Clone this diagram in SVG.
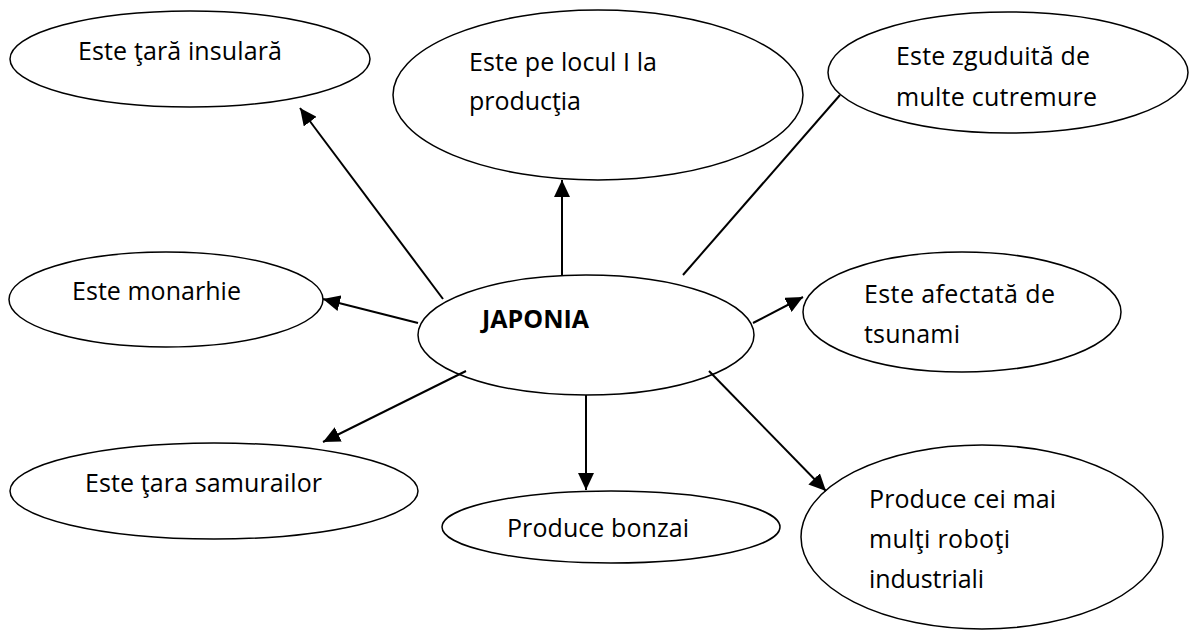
<svg xmlns="http://www.w3.org/2000/svg" width="1189" height="632" viewBox="0 0 1189 632">
<style>
  .node ellipse { fill: #ffffff; stroke: #000000; stroke-width: 1.5; }
  .lbl { font-family: "Open Sans", "Noto Sans", "Liberation Sans", sans-serif; font-size: 25px; fill: #000000; }
  .bold { font-weight: bold; }
  .conn line { stroke: #000000; stroke-width: 2; }
</style>
<defs>
  <marker id="arrow" markerUnits="userSpaceOnUse" markerWidth="17" markerHeight="16" refX="17" refY="8" orient="auto">
    <path d="M0,0 L17,8 L0,16 Z" fill="#000000"/>
  </marker>
</defs>
<rect x="0" y="0" width="1189" height="632" fill="#ffffff"/>

<g id="n-insulara" class="node">
  <ellipse cx="190" cy="59" rx="180" ry="48"/>
  <text class="lbl" x="78" y="60" textLength="204">Este ţară insulară</text>
</g>
<g id="n-productia" class="node">
  <ellipse cx="598" cy="95" rx="205" ry="85"/>
  <text class="lbl" x="469" y="71" textLength="188">Este pe locul I la</text>
  <text class="lbl" x="469" y="110" textLength="112">producţia</text>
</g>
<g id="n-cutremure" class="node">
  <ellipse cx="1008" cy="72.5" rx="180" ry="60.5"/>
  <text class="lbl" x="896" y="65" textLength="194">Este zguduită de</text>
  <text class="lbl" x="896" y="106" textLength="201">multe cutremure</text>
</g>
<g id="n-monarhie" class="node">
  <ellipse cx="166" cy="299.5" rx="157" ry="47.5"/>
  <text class="lbl" x="72" y="300" textLength="169">Este monarhie</text>
</g>
<g id="n-japonia" class="node">
  <ellipse cx="586" cy="335" rx="168" ry="60"/>
  <text class="lbl bold" x="482" y="328" textLength="107">JAPONIA</text>
</g>
<g id="n-tsunami" class="node">
  <ellipse cx="962" cy="312" rx="159" ry="60"/>
  <text class="lbl" x="864" y="303" textLength="191">Este afectată de</text>
  <text class="lbl" x="864" y="343" textLength="96">tsunami</text>
</g>
<g id="n-samurai" class="node">
  <ellipse cx="214" cy="491" rx="204" ry="48"/>
  <text class="lbl" x="85" y="492" textLength="237">Este ţara samurailor</text>
</g>
<g id="n-bonzai" class="node">
  <ellipse cx="611" cy="527" rx="169" ry="36"/>
  <text class="lbl" x="507" y="537" textLength="182">Produce bonzai</text>
</g>
<g id="n-roboti" class="node">
  <ellipse cx="982" cy="537" rx="181" ry="92"/>
  <text class="lbl" x="869" y="508" textLength="187">Produce cei mai</text>
  <text class="lbl" x="869" y="548" textLength="141">mulţi roboţi</text>
  <text class="lbl" x="869" y="588" textLength="115">industriali</text>
</g>

<g id="connectors" class="conn">
  <line x1="443" y1="299" x2="300" y2="108" marker-end="url(#arrow)"/>
  <line x1="562" y1="275" x2="562" y2="180" marker-end="url(#arrow)"/>
  <line x1="683" y1="275" x2="840" y2="95"/>
  <line x1="418" y1="323" x2="323" y2="299" marker-end="url(#arrow)"/>
  <line x1="753" y1="323" x2="803" y2="297" marker-end="url(#arrow)"/>
  <line x1="466" y1="371" x2="323" y2="442" marker-end="url(#arrow)"/>
  <line x1="586" y1="395" x2="586" y2="490" marker-end="url(#arrow)"/>
  <line x1="709" y1="371" x2="826" y2="491" marker-end="url(#arrow)"/>
</g>
</svg>
